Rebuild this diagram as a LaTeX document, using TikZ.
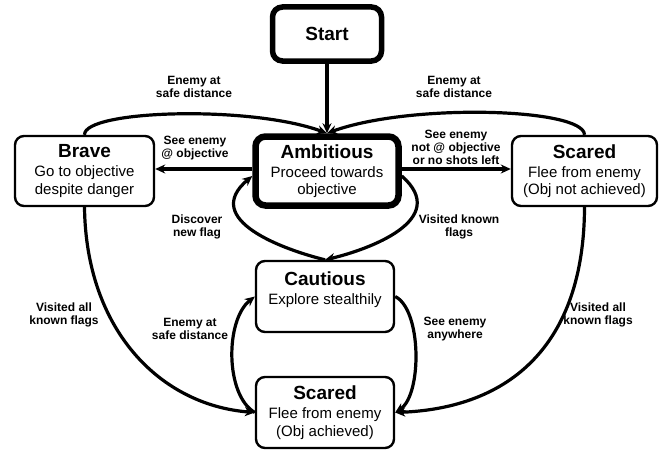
\documentclass[tikz,border=0pt]{standalone}
\usepackage{fontspec}
\setmainfont{Liberation Sans}
\usetikzlibrary{arrows.meta}
\newcommand{\ttl}[1]{{\fontsize{19}{19}\selectfont\bfseries #1}}
\begin{document}
\begin{tikzpicture}[x=1pt,y=-1pt,
  statebox/.style={draw, rounded corners=9pt, line width=2.4pt, align=center, inner sep=0pt,
    font=\fontsize{15}{17.5}\selectfont},
  bigbox/.style={statebox, line width=6.5pt, rounded corners=10pt},
  lbl/.style={font=\fontsize{12}{13}\selectfont\bfseries, align=center, inner sep=0pt},
  conn/.style={line width=3.2pt, -{Stealth[length=10pt,width=9pt]}}]
\useasboundingbox (0,0) rectangle (660,452);
% states
\node[bigbox, line width=5.5pt, minimum width=109pt, minimum height=54pt] (start) at (327,34) {\ttl{Start}};
\node[bigbox, minimum width=143pt, minimum height=69pt] (amb) at (327,171) {\ttl{Ambitious}\\[1.5pt]Proceed towards\\objective};
\node[statebox, minimum width=139pt, minimum height=70pt] (brave) at (84.5,171) {\ttl{Brave}\\[1.5pt]Go to objective\\despite danger};
\node[statebox, minimum width=145pt, minimum height=70pt] (scr) at (584.5,171) {\ttl{Scared}\\[1.5pt]Flee from enemy\\(Obj not achieved)};
\node[statebox, minimum width=138pt, minimum height=71pt] (cau) at (325,296.5) {\ttl{Cautious}\\[1.5pt]Explore stealthily\\\mbox{}};
\node[statebox, minimum width=138pt, minimum height=71pt] (scb) at (325,412.5) {\ttl{Scared}\\[1.5pt]Flee from enemy\\(Obj achieved)};
% connectors
\draw[conn] (start.south) -- (amb.north);
\draw[conn] (brave.north) .. controls (84,110) and (250,105) .. (amb.north);
\draw[conn] (scr.north) .. controls (584,108) and (410,103) .. (amb.north);
\draw[conn] ([yshift=2pt]amb.west) -- ([yshift=2pt]amb.west -| brave.east);
\draw[conn] ([yshift=2pt]amb.east) -- ([yshift=2pt]amb.east -| scr.west);
\draw[conn] (cau.north) .. controls (285,250) and (200,220) .. ([yshift=-5pt]amb.west);
\draw[conn] ([yshift=-5pt]amb.east) .. controls (452,220) and (367,250) .. (cau.north);
\draw[conn] (brave.south) .. controls (86,330) and (160,405) .. (scb.west);
\draw[conn] (scr.south) .. controls (584,345) and (510,408) .. (scb.east);
\draw[conn] (scb.west) .. controls (225,395) and (225,320) .. (cau.west);
\draw[conn] (cau.east) .. controls (422,310) and (422,395) .. (scb.east);
% labels
\node[lbl] (l1) at (194,87) {Enemy at\\safe distance};
\node[lbl] (l2) at (454,87) {Enemy at\\safe distance};
\node[lbl] (l3) at (195,148) {See enemy\\@ objective};
\node[lbl] (l4) at (456,147) {See enemy\\not @ objective\\or no shots left};
\node[lbl] (l5) at (197,227) {Discover\\new flag};
\node[lbl] (l6) at (459,227) {Visited known\\flags};
\node[lbl] (l7) at (64,315) {Visited all\\known flags};
\node[lbl] (l8) at (190,329) {Enemy at\\safe distance};
\node[lbl] (l9) at (455,329) {See enemy\\anywhere};
\node[lbl] (l10) at (598,315) {Visited all\\known flags};
\end{tikzpicture}
\end{document}
